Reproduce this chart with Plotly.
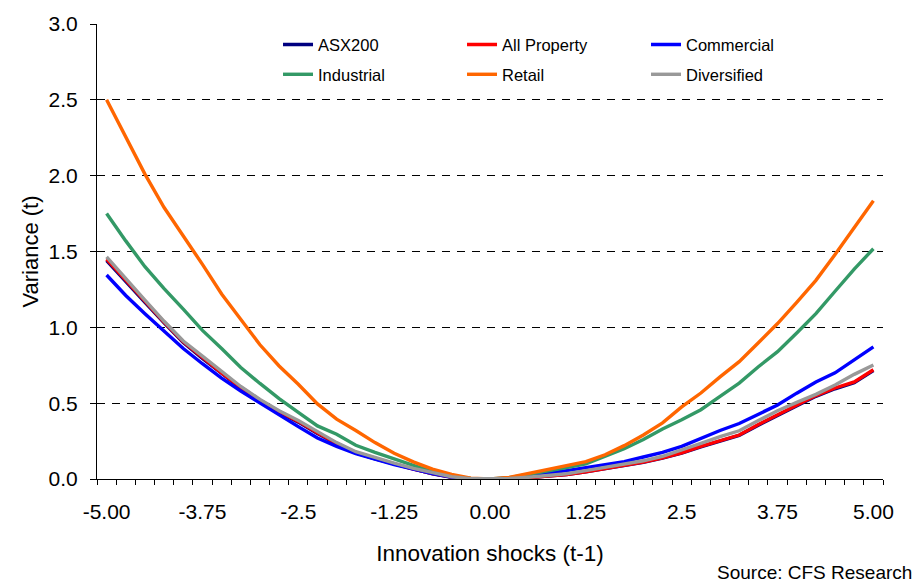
import plotly.graph_objects as go

# ---- data ----
shocks = [-5.00, -4.75, -4.50, -4.25, -4.00, -3.75, -3.50, -3.25, -3.00, -2.75,
          -2.50, -2.25, -2.00, -1.75, -1.50, -1.25, -1.00, -0.75, -0.50, -0.25,
          0.00, 0.25, 0.50, 0.75, 1.00, 1.25, 1.50, 1.75, 2.00, 2.25,
          2.50, 2.75, 3.00, 3.25, 3.50, 3.75, 4.00, 4.25, 4.50, 4.75, 5.00]

tick_values = [-5.00, -3.75, -2.5, -1.25, 0.00, 1.25, 2.5, 3.75, 5.00]
tick_labels = ["-5.00", "-3.75", "-2.5", "-1.25", "0.00", "1.25", "2.5", "3.75", "5.00"]

asx200 = [1.44, 1.30, 1.165, 1.03, 0.90, 0.795, 0.695, 0.60, 0.515, 0.44,
          0.375, 0.30, 0.232, 0.172, 0.132, 0.098, 0.063, 0.034, 0.011, 0.001,
          0.0, 0.002, 0.008, 0.02, 0.03, 0.047, 0.067, 0.089, 0.11, 0.138,
          0.17, 0.212, 0.252, 0.288, 0.355, 0.42, 0.485, 0.545, 0.595, 0.635, 0.715]

all_property = [1.45, 1.31, 1.17, 1.035, 0.905, 0.80, 0.70, 0.605, 0.52, 0.445,
                0.38, 0.305, 0.235, 0.175, 0.135, 0.10, 0.065, 0.035, 0.012, 0.001,
                0.0, 0.002, 0.008, 0.02, 0.03, 0.048, 0.068, 0.09, 0.112, 0.14,
                0.172, 0.215, 0.255, 0.29, 0.36, 0.425, 0.49, 0.55, 0.60, 0.64, 0.72]

commercial = [1.345, 1.21, 1.09, 0.975, 0.86, 0.76, 0.665, 0.58, 0.50, 0.42,
              0.345, 0.27, 0.215, 0.168, 0.13, 0.095, 0.065, 0.035, 0.012, 0.002,
              0.0, 0.005, 0.02, 0.035, 0.055, 0.075, 0.095, 0.115, 0.145, 0.175,
              0.215, 0.27, 0.32, 0.366, 0.43, 0.488, 0.566, 0.64, 0.70, 0.784, 0.871]

industrial = [1.75, 1.57, 1.40, 1.255, 1.12, 0.98, 0.86, 0.735, 0.63, 0.53,
              0.44, 0.35, 0.295, 0.222, 0.175, 0.13, 0.09, 0.05, 0.02, 0.003,
              0.0, 0.008, 0.03, 0.05, 0.075, 0.10, 0.15, 0.20, 0.26, 0.33,
              0.39, 0.457, 0.545, 0.632, 0.74, 0.84, 0.963, 1.09, 1.238, 1.384, 1.518]

retail = [2.50, 2.25, 2.01, 1.79, 1.605, 1.415, 1.22, 1.055, 0.885, 0.745,
          0.625, 0.495, 0.395, 0.32, 0.24, 0.17, 0.113, 0.065, 0.03, 0.006,
          0.0, 0.01, 0.035, 0.06, 0.09, 0.115, 0.16, 0.22, 0.29, 0.37,
          0.475, 0.567, 0.673, 0.774, 0.898, 1.025, 1.165, 1.31, 1.48, 1.658, 1.834]

diversified = [1.465, 1.32, 1.18, 1.04, 0.91, 0.81, 0.71, 0.61, 0.525, 0.45,
               0.385, 0.31, 0.24, 0.18, 0.14, 0.105, 0.07, 0.04, 0.015, 0.002,
               0.0, 0.003, 0.012, 0.025, 0.035, 0.055, 0.075, 0.10, 0.12, 0.15,
               0.19, 0.235, 0.28, 0.318, 0.385, 0.45, 0.505, 0.558, 0.62, 0.69, 0.752]

series = [
    ("ASX200", asx200, "#000080", "legend"),
    ("All Property", all_property, "#FF0000", "legend"),
    ("Commercial", commercial, "#0000FF", "legend"),
    ("Industrial", industrial, "#339966", "legend2"),
    ("Retail", retail, "#FF6600", "legend2"),
    ("Diversified", diversified, "#999999", "legend2"),
]

FONT = "Arial, 'Liberation Sans', sans-serif"

fig = go.Figure()
for name, vals, color, leg in series:
    fig.add_trace(go.Scatter(
        x=shocks, y=vals, name=name, mode="lines",
        line=dict(color=color, width=3.4),
        legend=leg,
    ))

legend_common = dict(
    orientation="h",
    entrywidth=139, entrywidthmode="pixels",
    font=dict(family=FONT, size=16.5, color="black"),
    bgcolor="rgba(0,0,0,0)",
    borderwidth=0,
    xanchor="left", yanchor="middle",
    tracegroupgap=0,
)

fig.update_layout(
    width=924, height=583,
    margin=dict(l=97, r=41, t=20, b=104),
    paper_bgcolor="white", plot_bgcolor="white",
    font=dict(family=FONT, color="black"),
    showlegend=True,
    legend=dict(x=0.2303, y=0.9542, **legend_common),
    legend2=dict(x=0.2303, y=0.8889, **legend_common),
    xaxis=dict(
        range=[-5.125, 5.125],
        tickmode="array", tickvals=tick_values, ticktext=tick_labels,
        ticks="", showgrid=False, zeroline=False,
        showline=True, linecolor="black", linewidth=1,
        tickfont=dict(family=FONT, size=21, color="black"),
        ticklabelstandoff=14,
        minor=dict(ticks="outside", ticklen=5, tickcolor="black", tickwidth=1,
                   tick0=-5.125, dtick=0.25, showgrid=False),
        title=dict(text="Innovation shocks (t-1)", standoff=23,
                   font=dict(family=FONT, size=22.5, color="black")),
    ),
    yaxis=dict(
        range=[0, 3.0], dtick=0.5, tick0=0, tickformat=".1f",
        ticks="outside", ticklen=6, tickcolor="black", tickwidth=1,
        showline=True, linecolor="black", linewidth=1,
        showgrid=True, gridcolor="black", gridwidth=1, griddash="8px,7px",
        zeroline=False,
        tickfont=dict(family=FONT, size=21, color="black"),
        ticklabelstandoff=8,
        title=dict(text="Variance (t)", standoff=3,
                   font=dict(family=FONT, size=22, color="black")),
    ),
    annotations=[dict(
        text="Source: CFS Research", xref="paper", yref="paper",
        x=1.0394, y=-0.2048, xanchor="right", yanchor="middle",
        showarrow=False, font=dict(family=FONT, size=19, color="black"),
    )],
)

fig.write_html("out.html",
               config={"displayModeBar": False},
               post_script="document.body.style.margin='0px';document.body.style.padding='0px';")
